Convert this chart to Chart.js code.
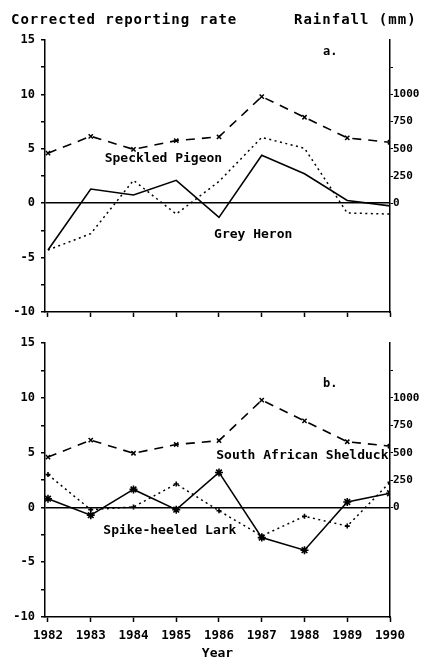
<!DOCTYPE html>
<html>
<head>
<meta charset="utf-8">
<script src="https://cdn.jsdelivr.net/npm/chart.js@4"></script>
<style>
  html, body { margin: 0; padding: 0; background: #fff; }
  #wrap { position: relative; width: 422px; height: 661px; }
  .pane { position: absolute; left: 0; width: 422px; }
</style>
</head>
<body>
<div id="wrap">
  <div class="pane" style="top:0;height:330px"><canvas id="chartA"></canvas></div>
  <div class="pane" style="top:330px;height:331px"><canvas id="chartB"></canvas></div>
</div>
<script>
// data
const years = [1982, 1983, 1984, 1985, 1986, 1987, 1988, 1989, 1990];
const rainfall = [460, 615, 495, 575, 610, 980, 790, 600, 560];           // mm, same in both panels
const greyHeron = [-4.3, 1.3, 0.75, 2.1, -1.3, 4.4, 2.7, 0.25, -0.25];     // panel a, solid
const speckledPigeon = [-4.3, -2.8, 2.1, -1.0, 2.0, 6.05, 5.05, -0.9, -1.0]; // panel a, dotted
const spikeheeledLark = [0.8, -0.7, 1.65, -0.2, 3.2, -2.75, -3.9, 0.5, 1.3]; // panel b, solid
const shelduck = [3.0, -0.2, 0.05, 2.15, -0.3, -2.6, -0.8, -1.7, 2.3];     // panel b, dotted
const leftTicks = [-10, -5, 0, 5, 10, 15];
const rightTicks = [0, 250, 500, 750, 1000];

const MONO = "'DejaVu Sans Mono', monospace";

function pts(arr) {
    return arr.map((v, i) => ({ x: years[i], y: v }));
}

function makeScales(showYears) {
    return {
        x: {
            type: 'linear',
            min: 1981.93,
            max: 1990,
            afterBuildTicks: s => { s.ticks = years.map(y => ({ value: y })); },
            afterFit: s => { s.height = showYears ? 44 : 18; },
            border: { color: '#000', width: 1.5 },
            grid: { drawOnChartArea: false, color: '#000', tickLength: 5, tickWidth: 1.5 },
            ticks: {
                color: '#000',
                padding: 6,
                maxRotation: 0,
                font: { family: MONO, size: 12.5, weight: 'bold' },
                callback: v => showYears ? String(v) : ''
            },
            title: {
                display: showYears,
                text: 'Year',
                color: '#000',
                padding: { top: 0, bottom: 0 },
                font: { family: MONO, size: 13, weight: 'bold' }
            }
        },
        y: {
            position: 'left',
            min: -10,
            max: 15,
            afterBuildTicks: s => {
                const t = [];
                for (let v = -10; v <= 15; v += 2.5) t.push({ value: v });
                s.ticks = t;
            },
            afterFit: s => { s.width = 45; },
            border: { color: '#000', width: 1.5 },
            grid: {
                color: c => (c.tick && c.tick.value === 0) ? '#000' : 'rgba(0,0,0,0)',
                lineWidth: 1.5,
                tickColor: '#000',
                tickLength: 4
            },
            ticks: {
                color: '#000',
                padding: 6,
                font: { family: MONO, size: 12, weight: 'bold' },
                callback: v => leftTicks.includes(v) ? String(v) : ''
            }
        },
        y1: {
            position: 'right',
            min: -1000,
            max: 1500,
            afterBuildTicks: s => {
                const t = [];
                for (let v = 0; v <= 1250; v += 250) t.push({ value: v });
                s.ticks = t;
            },
            afterFit: s => { s.width = 32; },
            border: { color: '#000', width: 1.5 },
            grid: { drawOnChartArea: false, tickColor: '#000', tickLength: 3 },
            ticks: {
                color: '#000',
                padding: 0,
                font: { family: MONO, size: 11, weight: 'bold' },
                callback: v => rightTicks.includes(v) ? String(v) : ''
            }
        }
    };
}

function rainSet() {
    return {
        data: pts(rainfall),
        yAxisID: 'y1',
        borderColor: '#000',
        borderWidth: 1.6,
        borderDash: [9, 7],
        pointStyle: 'crossRot',
        pointRadius: 3,
        pointBorderColor: '#000',
        pointBorderWidth: 1.5,
        tension: 0
    };
}

function lineSet(arr, dotted, marker, r) {
    return {
        data: pts(arr),
        yAxisID: 'y',
        borderColor: '#000',
        borderWidth: dotted ? 1.5 : 1.6,
        borderDash: dotted ? [2, 3.5] : [],
        pointStyle: marker || 'circle',
        pointRadius: marker ? r : 0,
        pointBorderColor: '#000',
        pointBorderWidth: 1.6,
        tension: 0
    };
}

// text labels placed by data values
function labelPlugin(items, header) {
    return {
        id: 'labels',
        afterDraw(chart) {
            const ctx = chart.ctx;
            const sx = chart.scales.x, sy = chart.scales.y;
            ctx.save();
            ctx.fillStyle = '#000';
            ctx.textBaseline = 'middle';
            if (header) {
                ctx.font = 'bold 14px ' + MONO;
                ctx.letterSpacing = '1px';
                ctx.textAlign = 'left';
                ctx.fillText('Corrected reporting rate', 11, 20);
                ctx.fillText('Rainfall (mm)', 294, 20);
                ctx.letterSpacing = '0px';
            }
            items.forEach(it => {
                ctx.font = 'bold ' + it.size + 'px ' + MONO;
                ctx.textAlign = 'center';
                ctx.fillText(it.text, sx.getPixelForValue(it.x), sy.getPixelForValue(it.y));
            });
            ctx.restore();
        }
    };
}

new Chart('chartA', {
    type: 'line',
    data: {
        datasets: [
            rainSet(),
            lineSet(greyHeron, false),
            lineSet(speckledPigeon, true)
        ]
    },
    options: {
        animation: false,
        responsive: true,
        maintainAspectRatio: false,
        layout: { padding: { top: 40, left: 0, right: 0, bottom: 0 } },
        plugins: { legend: { display: false }, tooltip: { enabled: false } },
        scales: makeScales(false)
    },
    plugins: [labelPlugin([
        { text: 'a.', x: 1988.6, y: 13.9, size: 12 },
        { text: 'Speckled Pigeon', x: 1984.7, y: 4.1, size: 13 },
        { text: 'Grey Heron', x: 1986.8, y: -2.85, size: 13 }
    ], true)]
});

new Chart('chartB', {
    type: 'line',
    data: {
        datasets: [
            rainSet(),
            lineSet(spikeheeledLark, false, 'star', 4),
            lineSet(shelduck, true, 'cross', 2.5)
        ]
    },
    options: {
        animation: false,
        responsive: true,
        maintainAspectRatio: false,
        layout: { padding: { top: 12, left: 0, right: 0, bottom: 0 } },
        plugins: { legend: { display: false }, tooltip: { enabled: false } },
        scales: makeScales(true)
    },
    plugins: [labelPlugin([
        { text: 'b.', x: 1988.6, y: 11.3, size: 12 },
        { text: 'South African Shelduck', x: 1987.95, y: 4.7, size: 13 },
        { text: 'Spike-heeled Lark', x: 1984.85, y: -2.1, size: 13 }
    ], false)]
});
</script>
</body>
</html>
